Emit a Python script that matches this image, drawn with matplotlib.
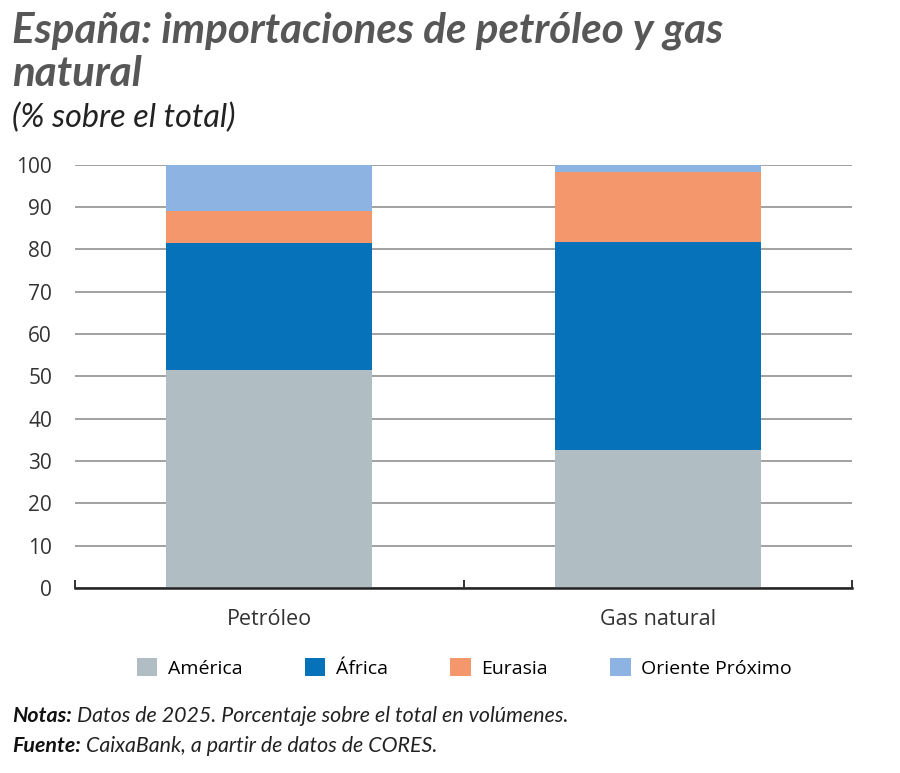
import matplotlib
matplotlib.use("Agg")
import matplotlib.pyplot as plt
from matplotlib.patches import Patch
import numpy as np

categories = ["Petróleo", "Gas natural"]
series_names = ["América", "África", "Eurasia", "Oriente Próximo"]
america = [51.4, 32.6]
africa = [30.2, 49.2]
eurasia = [7.5, 16.5]
oriente = [10.9, 1.7]
yticks = [0, 10, 20, 30, 40, 50, 60, 70, 80, 90, 100]

colors = ["#B0BEC3", "#0572B9", "#F4976C", "#8DB3E2"]
series = [america, africa, eurasia, oriente]

TFONT = ["Lato", "DejaVu Sans"]
REG = ["Open Sans", "DejaVu Sans"]

fig = plt.figure(figsize=(9, 7.73), dpi=100)
ax = fig.add_axes([75/900, 1-588/773, (852-75)/900, (588-164.7)/773])

x = np.arange(len(categories))
bottom = np.zeros(len(categories))
for vals, c in zip(series, colors):
    ax.bar(x, vals, width=0.53, bottom=bottom, color=c, zorder=3, linewidth=0)
    bottom += np.array(vals)

ax.set_xlim(-0.5, 1.5)
ax.set_ylim(0, 100)
ax.set_yticks(yticks)
ax.set_yticklabels([str(v) for v in yticks], fontfamily=REG, fontsize=15, color="#333333")
ax.tick_params(axis="y", length=0, pad=16.5)
ax.yaxis.grid(True, color="#9a9a9a", linewidth=1.3, zorder=0)
ax.set_axisbelow(True)

ax.set_xticks(x)
ax.set_xticklabels(categories, fontfamily=REG, fontsize=15.5, color="#333333")
ax.tick_params(axis="x", which="major", length=0, pad=15)
ax.set_xticks([-0.5, 0.5, 1.5], minor=True)
ax.tick_params(axis="x", which="minor", direction="in", length=6, width=1.3, color="#222222")

for s in ["left", "right", "top"]:
    ax.spines[s].set_visible(False)
ax.spines["bottom"].set_color("#222222")
ax.spines["bottom"].set_linewidth(1.8)
ax.spines["bottom"].set_zorder(5)

handles = [Patch(facecolor=c, edgecolor="none") for c in colors]
fig.legend(handles, series_names, loc="center", bbox_to_anchor=(0.516, 1-668/773),
           ncol=4, frameon=False, handlelength=1.05, handleheight=1.05,
           handletextpad=0.55, columnspacing=3.2,
           prop={"family": REG, "size": 14})

renderer = fig.canvas.get_renderer()


def fit(t, target_px):
    w = t.get_window_extent(renderer=renderer).width
    t.set_fontsize(t.get_fontsize() * target_px / w)


t1 = fig.text(12/900, 1-31/773, "España: importaciones de petróleo y gas",
              fontfamily=TFONT, fontweight="bold", fontstyle="italic", fontsize=28,
              color="#575757", va="center", ha="left")
fit(t1, 710)
t2 = fig.text(12/900, 1-74/773, "natural",
              fontfamily=TFONT, fontweight="bold", fontstyle="italic",
              fontsize=t1.get_fontsize(), color="#575757", va="center", ha="left")
t3 = fig.text(12/900, 1-118/773, "(% sobre el total)", fontfamily=TFONT, fontstyle="italic",
              fontsize=20, color="#222222", va="center", ha="left")
fit(t3, 223)

fs_notes = None
for i, (b, t) in enumerate([("Notas:", " Datos de 2025. Porcentaje sobre el total en volúmenes."),
                            ("Fuente:", " CaixaBank, a partir de datos de CORES.")]):
    y = 1 - (716 + 30*i)/773
    tb = fig.text(12/900, y, b, fontfamily=TFONT, fontweight="bold", fontstyle="italic",
                  fontsize=15, color="#111111", va="center", ha="left")
    tt = fig.text(0, y, t, fontfamily=TFONT, fontstyle="italic",
                  fontsize=15, color="#222222", va="center", ha="left")
    if fs_notes is None:
        wb = tb.get_window_extent(renderer=renderer).width
        wt = tt.get_window_extent(renderer=renderer).width
        fs_notes = 15 * 558 / (wb + wt)
    tb.set_fontsize(fs_notes)
    tt.set_fontsize(fs_notes)
    bb = tb.get_window_extent(renderer=renderer)
    tt.set_x(bb.x1 / 900)

fig.savefig("out.png", dpi=100)
